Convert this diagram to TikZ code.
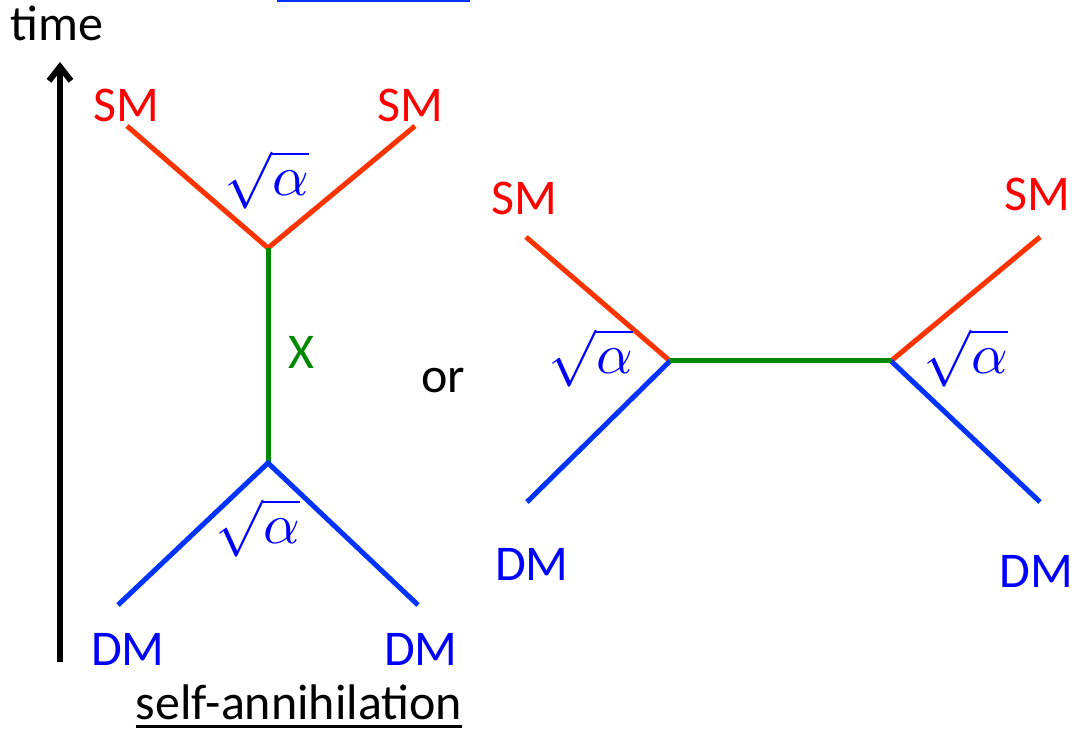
\documentclass[tikz,border=0pt]{standalone}
\usepackage{graphicx}
\usepackage{fontspec}
\setmainfont{Carlito}
\usetikzlibrary{arrows.meta}
\definecolor{smred}{RGB}{255,0,0}
\definecolor{linered}{RGB}{255,51,0}
\definecolor{xgreen}{RGB}{0,136,0}
\definecolor{dmblue}{RGB}{0,0,255}
\definecolor{lineblue}{RGB}{0,51,255}
\newcommand{\sqalpha}{\scalebox{5.7}{$\sqrt{\alpha}$}}
\tikzset{
  lbl/.style={inner sep=0pt, anchor=base, font=\fontsize{50}{60}\selectfont},
  smlbl/.style={lbl, text=smred},
  dmlbl/.style={lbl, text=dmblue},
  coup/.style={inner sep=0pt, anchor=center, text=dmblue, font=\fontsize{10}{12}\selectfont},
  redline/.style={draw=linered, line width=5pt},
  greenline/.style={draw=xgreen, line width=5pt},
  blueline/.style={draw=lineblue, line width=5pt},
}
\begin{document}
\begin{tikzpicture}[x=1pt,y=-1pt]
\useasboundingbox (0,0) rectangle (1072,730);
% top cut-off blue bar
\fill[lineblue] (277,0) rectangle (470,2.5);
% time axis
\node[lbl] (time) at (57,41) {time};
\coordinate (tbot) at (60,662);
\coordinate (ttop) at (60,62);
\draw[line width=6pt, -{Straight Barb[length=14pt,width=22pt,line width=6pt]}] (tbot) -- (ttop);

% left diagram
\coordinate (v1) at (268,248);
\coordinate (v2) at (268,463);
\coordinate (l1) at (127,126);
\coordinate (l2) at (415,126);
\coordinate (l3) at (118,605);
\coordinate (l4) at (418,605);
\draw[redline] (l1) -- (v1) -- (l2);
\draw[greenline] (v1) -- (v2);
\draw[blueline] (l3) -- (v2) -- (l4);
\node[smlbl] (sm1) at (126,122) {SM};
\node[smlbl] (sm2) at (410,122) {SM};
\node[dmlbl] (dm1) at (128,665) {DM};
\node[dmlbl] (dm2) at (421,665) {DM};
\node[lbl, text=xgreen] (xlab) at (301,368) {X};
\node[coup] (a1) at (267,180) {\sqalpha};
\node[coup] (a2) at (258,528) {\sqalpha};
\node[lbl, text depth=0pt] (sa) at (299,719) {self-annihilation};
\draw[line width=3pt] ([yshift=-7pt]sa.base west) -- ([yshift=-7pt]sa.base east);

\node[lbl] (or) at (443,392) {or};

% right diagram
\coordinate (w1) at (670,361);
\coordinate (w2) at (891,361);
\coordinate (r1) at (526,237);
\coordinate (r2) at (1040,237);
\coordinate (r3) at (527,502);
\coordinate (r4) at (1040,502);
\draw[redline] (r1) -- (w1);
\draw[redline] (w2) -- (r2);
\draw[blueline] (r3) -- (w1);
\draw[blueline] (w2) -- (r4);
\draw[greenline] (w1) -- (w2);
\node[smlbl] (sm3) at (524,215) {SM};
\node[smlbl] (sm4) at (1037,211) {SM};
\node[dmlbl] (dm3) at (532,580) {DM};
\node[dmlbl] (dm4) at (1036,587) {DM};
\node[coup] (a3) at (591,358) {\sqalpha};
\node[coup] (a4) at (966,358) {\sqalpha};
\end{tikzpicture}
\end{document}
